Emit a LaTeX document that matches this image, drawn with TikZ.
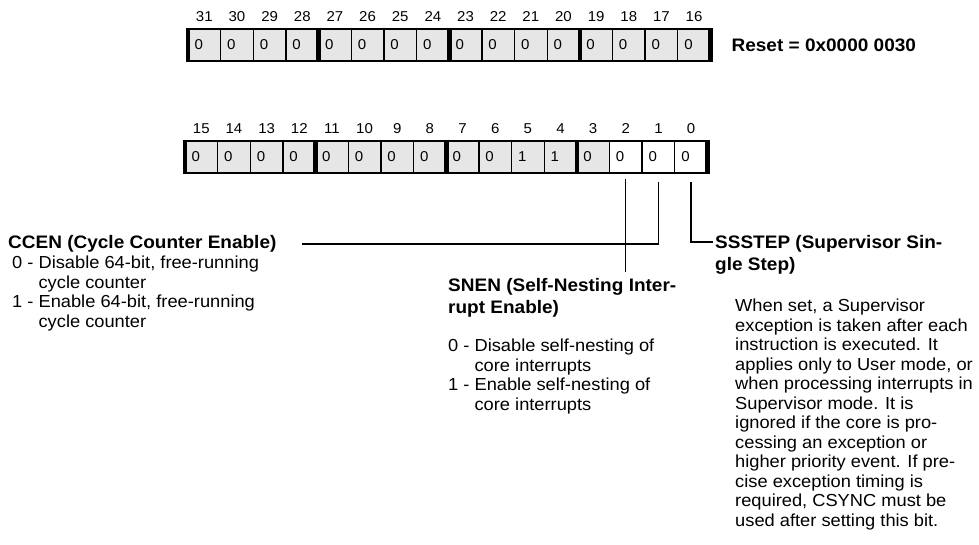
\documentclass[tikz,border=0pt]{standalone}
\usepackage{fontspec}
\setmainfont{Liberation Sans}[FakeStretch=1.05]
\usetikzlibrary{positioning}
\definecolor{regfill}{HTML}{E6E6E6}
\newcommand{\bodyfont}{\fontsize{17.4}{19.5}\selectfont}
\newcommand{\titlefont}{\bfseries\fontsize{18.1}{22}\selectfont}
\newcommand{\regfont}{\fontsize{14.3}{15}\selectfont}
\tikzset{
 cell/.style={draw,line width=1.3pt,minimum height=32pt,text width=19.65pt,
              inner xsep=6.5pt,inner ysep=0pt,outer sep=0pt,align=left,font=\regfont},
 bitnum/.style={inner sep=0pt,font=\regfont},
 border/.style={line width=2.2pt},
 nibble/.style={line width=4.6pt,shorten <=-1.1pt,shorten >=-1.1pt},
 leader/.style={line width=1.4pt},
 title/.style={inner sep=0pt,align=left,font=\titlefont},
 desc/.style={inner sep=0pt,align=left,font=\bodyfont}
}

\begin{document}
\begin{tikzpicture}[x=1pt,y=-1pt]
\useasboundingbox (0,0) rectangle (979,545);
% upper half word
\foreach \b [count=\k from 0] in {31,30,...,16}
  \node[cell,fill=regfill] (bit\b) at ({188+32.65*(\k+0.5)},45) {0};
\foreach \b in {31,30,...,16}
  \node[bitnum,above=7pt of bit\b] (num\b) {\b};
% lower half word
\foreach \b/\v/\c [count=\k from 0] in {15/0/regfill,14/0/regfill,13/0/regfill,12/0/regfill,
    11/0/regfill,10/0/regfill,9/0/regfill,8/0/regfill,7/0/regfill,6/0/regfill,
    5/1/regfill,4/1/regfill,3/0/regfill,2/0/white,1/0/white,0/0/white}
  \node[cell,fill=\c] (bit\b) at ({185+32.65*(\k+0.5)},157) {\v};
\foreach \b in {15,14,...,0}
  \node[bitnum,above=7pt of bit\b] (num\b) {\b};
% frames and nibble bars
\draw[border] (bit31.north west) -- (bit16.north east);
\draw[border] (bit31.south west) -- (bit16.south east);
\draw[border] (bit15.north west) -- (bit0.north east);
\draw[border] (bit15.south west) -- (bit0.south east);
\foreach \b in {31,27,23,19,15,11,7,3}
  \draw[nibble] (bit\b.north west) -- (bit\b.south west);
\draw[nibble] (bit16.north east) -- (bit16.south east);
\draw[nibble] (bit0.north east) -- (bit0.south east);
\node[title,right=21pt of bit16] (reset) {Reset = 0x0000 0030};
% field descriptions
\node[title,anchor=west] (ccen) at (8,244) {CCEN (Cycle Counter Enable)};
\node[desc,anchor=north west] (ccenlist) at (12,256)
  {0 - Disable 64-bit, free-running\\\hphantom{0 -\ }cycle counter\\
   1 - Enable 64-bit, free-running\\\hphantom{1 -\ }cycle counter};
\node[title,anchor=north west] (snen) at (448,278) {SNEN (Self-Nesting Inter-\\rupt Enable)};
\node[desc,anchor=north west] (snenlist) at (448,339)
  {0 - Disable self-nesting of\\\hphantom{0 -\ }core interrupts\\
   1 - Enable self-nesting of\\\hphantom{1 -\ }core interrupts};
\node[title,anchor=north west] (ssstep) at (715,235) {SSSTEP (Supervisor Sin-\\gle Step)};
\node[desc,anchor=north west] (ssstepdesc) at (735,299)
  {When set, a Supervisor\\exception is taken after each\\instruction is executed. It\\
   applies only to User mode, or\\when processing interrupts in\\Supervisor mode. It is\\
   ignored if the core is pro-\\cessing an exception or\\higher priority event. If pre-\\
   cise exception timing is\\required, CSYNC must be\\used after setting this bit.};
% leader lines
\draw[leader] ([yshift=-9pt]bit1.south) |- ([xshift=25pt]ccen.east);
\draw[leader,shorten >=6pt] ([yshift=-6pt]bit2.south) -- (bit2.south |- snen.north);
\draw[leader] ([yshift=-9pt]bit0.south) |- ([xshift=-2pt,yshift=-7pt]ssstep.north west);
\end{tikzpicture}
\end{document}
